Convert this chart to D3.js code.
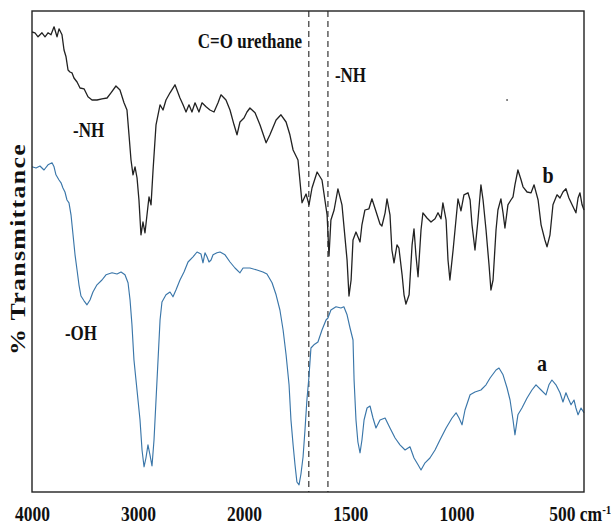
<!DOCTYPE html>
<html>
<head>
<meta charset="utf-8">
<script src="https://cdn.jsdelivr.net/npm/d3@7"></script>
<style>
  body { margin: 0; background: #fff; }
  text { font-family: "Liberation Serif", "Times New Roman", serif; font-weight: bold; fill: #111; }
</style>
</head>
<body>
<svg id="ftir"></svg>
<script>
// Chart size and plot box
const width = 611;
const height = 524;
const box = { left: 32, right: 584, top: 11, bottom: 492 };

// Wavenumber ticks (cm-1), the axis is expanded below 2000
const tickValues = [4000, 3000, 2000, 1500, 1000, 500];

// Dashed marker lines (cm-1)
const markerLines = [1695, 1605];

// Spectrum b (upper, black) : [wavenumber, transmittance]
const spectrumB = [
  [4000,115],[3972,114.8],[3943,113.8],[3906,114.8],[3877,113.8],[3849,114.8],[3821,114.3],
  [3792,116.3],[3764,113.8],[3745,115.8],[3717,114.3],[3698,110.5],[3679,108.8],[3660,105.5],
  [3642,105],[3623,104.8],[3604,103.5],[3575,102.5],[3547,101],[3509,100.8],[3472,98.8],
  [3434,98],[3387,98],[3340,98.3],[3292,98.5],[3255,99.8],[3208,101.5],[3170,100.5],
  [3132,97.3],[3104,95.5],[3085,89.3],[3066,83],[3047,79.3],[3028,81.3],[3009,78.5],
  [2991,73],[2972,64.3],[2953,67.5],[2934,64.8],[2915,69.3],[2896,73.8],[2877,71.8],
  [2858,80.5],[2830,91.8],[2792,96.8],[2764,95.5],[2736,98],[2698,99.8],[2651,101.8],
  [2604,98.5],[2575,96.8],[2547,95],[2519,96.8],[2491,95],[2462,97.3],[2425,95],
  [2396,97.3],[2358,96.3],[2321,95.5],[2283,95],[2245,97.3],[2217,99.3],[2170,98],
  [2132,95.5],[2094,91.8],[2066,89.3],[2038,92.5],[2000,93.5],[1986,95],[1972,96],
  [1948,94.8],[1925,91.8],[1896,87.3],[1878,89.3],[1849,93],[1826,94.3],[1802,92.5],
  [1784,89.3],[1769,85.5],[1746,83],[1727,72.3],[1708,74.5],[1694,71.8],[1680,76],
  [1656,80],[1633,78],[1609,69.3],[1600,59],[1591,68],[1576,70.5],[1558,75.8],[1539,71.8],
  [1515,58],[1506,49],[1496,53],[1487,63],[1473,65],[1454,62.5],[1445,66.8],[1431,70.5],
  [1412,70.8],[1398,73.3],[1384,71],[1360,67],[1351,66.5],[1336,69.8],[1327,73.3],
  [1313,69.3],[1304,60.5],[1294,57.3],[1280,61.8],[1271,61],[1256,54.3],[1247,49.3],
  [1238,47],[1223,49.3],[1209,61.8],[1200,65.8],[1191,59.3],[1181,53.8],[1167,65.5],
  [1158,69.8],[1139,68.5],[1120,67.5],[1101,68.3],[1087,69.8],[1073,68.3],[1064,72.3],
  [1049,68],[1040,58],[1031,53],[1016,60.5],[1007,65.5],[993,73.3],[979,70.3],[965,74.3],
  [946,74.8],[936,73],[927,66.8],[913,60.5],[899,68],[885,76.8],[875,73],[861,65.5],
  [847,56.8],[838,50.5],[828,53],[814,65.5],[805,70.5],[791,73.3],[781,69.8],[772,66],
  [758,71.8],[744,73],[734,73.8],[725,76.8],[711,80.5],[696,78],[687,76.3],[668,75],
  [649,74.8],[635,76.8],[616,73],[602,66.8],[584,63],[574,61.3],[560,64.3],[546,71.8],
  [527,74.3],[513,73.5],[499,75],[485,75.8],[471,73.5],[456,71.8],[438,69.8],[428,73.5],
  [419,74.8],[409,71.8],[400,70.5]
];

// Spectrum a (lower, blue) : [wavenumber, transmittance]
const spectrumA = [
  [4000,81.3],[3962,81],[3925,81.5],[3887,80.5],[3849,81.8],[3811,82.3],[3792,81.3],
  [3774,79.3],[3745,78],[3726,77.3],[3708,76],[3689,75],[3670,73],[3651,72.3],[3632,69.3],
  [3613,64.3],[3594,59.3],[3575,55.5],[3557,51.8],[3538,49],[3509,47.8],[3481,46.8],
  [3453,48],[3425,50],[3387,51.8],[3340,53],[3302,54.3],[3245,54.8],[3198,54.5],[3160,55],
  [3123,54.3],[3094,52.3],[3075,48],[3057,41.8],[3038,33],[3019,28],[3000,23],[2981,18],
  [2962,10.5],[2943,6.3],[2925,8.5],[2906,11.8],[2887,9.3],[2868,6.5],[2849,13],[2830,23],
  [2811,33],[2792,43],[2774,47.5],[2736,49.3],[2698,50],[2670,48.8],[2642,50.5],[2604,53],
  [2566,55],[2528,57.5],[2481,58.8],[2443,60],[2406,59.5],[2387,57.3],[2368,59.8],
  [2349,58.8],[2330,57.5],[2311,58],[2292,59.3],[2255,59.8],[2226,60],[2179,59.3],
  [2132,57.5],[2085,56],[2038,54.8],[2009,56],[1972,56],[1939,55.5],[1911,55],[1892,54.5],
  [1868,52.3],[1849,49.3],[1831,45.5],[1816,40.5],[1802,34.3],[1788,26.8],[1779,18],
  [1769,11.8],[1760,6.8],[1751,2.5],[1741,1.8],[1732,4.5],[1722,8.8],[1713,15.5],[1704,23],
  [1694,29],[1685,36],[1671,36.8],[1652,37.5],[1633,40.5],[1614,43],[1605,43.5],[1591,45.5],
  [1567,46.3],[1544,46],[1530,46.3],[1515,44.3],[1501,41],[1487,38],[1482,28],[1473,18],
  [1464,12.5],[1454,9.8],[1445,13],[1435,18],[1421,21],[1407,21.5],[1393,18.5],[1379,16],
  [1360,18],[1336,18.5],[1313,16],[1289,13.5],[1266,11.8],[1242,10.5],[1219,11.3],[1200,8.5],
  [1181,6.8],[1167,5.5],[1148,7.3],[1125,8.5],[1101,10.5],[1078,13],[1049,16],[1021,18.5],
  [1002,19.8],[988,18.5],[974,16.8],[960,20.5],[936,24.3],[913,25],[885,25.5],[861,26.8],
  [842,28.5],[814,30.5],[800,31],[781,29.3],[762,26],[748,23],[734,18],[725,14.3],[711,19.3],
  [692,21],[668,23.5],[645,25.5],[626,26.8],[602,25.5],[579,24.3],[565,26.8],[551,28],
  [532,26.8],[513,24.8],[499,22.5],[485,24.8],[475,23.5],[461,21.8],[447,23],[438,21],
  [428,19.3],[414,21],[400,19.8]
];

// Text annotations : [text, wavenumber, transmittance, anchor]
const annotations = [
  ["C=O urethane", 1727, 111, "end"],
  ["-NH", 1572, 102.5, "start"],
  ["-NH", 3613, 88.8, "start"],
  ["-OH", 3689, 38, "start"],
  ["b", 569, 77.3, "middle"],
  ["a", 598, 30.3, "middle"]
];

const svg = d3.select("#ftir")
    .attr("width", width)
    .attr("height", height);

// Piecewise x scale, 2x expansion below 2000 cm-1
const x = d3.scaleLinear()
    .domain([4000, 2000, 400])
    .range([box.left, 244, box.right]);

const y = d3.scaleLinear()
    .domain([0, 120])
    .range([box.bottom, 12]);

const line = d3.line()
    .x(d => x(d[0]))
    .y(d => y(d[1]));

// Dashed markers
svg.selectAll(".marker")
    .data(markerLines)
    .enter().append("line")
    .attr("class", "marker")
    .attr("x1", d => x(d)).attr("x2", d => x(d))
    .attr("y1", box.top).attr("y2", box.bottom)
    .attr("stroke", "#222")
    .attr("stroke-width", 1.1)
    .attr("stroke-dasharray", "6,4");

// Spectra
svg.append("path")
    .datum(spectrumA)
    .attr("d", line)
    .attr("fill", "none")
    .attr("stroke", "#3a76a9")
    .attr("stroke-width", 1.15)
    .attr("stroke-linejoin", "round");

svg.append("path")
    .datum(spectrumB)
    .attr("d", line)
    .attr("fill", "none")
    .attr("stroke", "#222")
    .attr("stroke-width", 1.3)
    .attr("stroke-linejoin", "round");

// Plot frame
svg.append("rect")
    .attr("x", box.left).attr("y", box.top)
    .attr("width", box.right - box.left)
    .attr("height", box.bottom - box.top)
    .attr("fill", "none")
    .attr("stroke", "#222")
    .attr("stroke-width", 1.4);

// x axis labels
const xAxis = d3.axisBottom(x)
    .tickValues(tickValues)
    .tickSize(0)
    .tickSizeOuter(0)
    .tickFormat(d3.format("d"));

const axisG = svg.append("g")
    .attr("transform", `translate(0, ${box.bottom})`)
    .call(xAxis);
axisG.select(".domain").remove();
axisG.selectAll("text")
    .attr("y", null).attr("dy", null)
    .attr("fill", "#111")
    .style("font-family", "'Liberation Serif', serif")
    .style("font-weight", "bold")
    .style("font-size", "17.5px")
    .attr("transform", "translate(0,29) scale(1,1.2)");

// unit on the last tick
const lastTick = axisG.selectAll("text").filter(d => d === 500);
lastTick.attr("text-anchor", "start").attr("x", -14);
lastTick.append("tspan").text(" cm");
lastTick.append("tspan").text("-1").attr("dy", -6).style("font-size", "11px");

// y axis title
svg.append("text")
    .attr("transform", "translate(25, 249) rotate(-90)")
    .attr("text-anchor", "middle")
    .attr("textLength", 212)
    .attr("lengthAdjust", "spacingAndGlyphs")
    .style("font-size", "20px")
    .style("letter-spacing", "1px")
    .text("% Transmittance");

// Annotations
svg.selectAll(".note")
    .data(annotations)
    .enter().append("text")
    .attr("class", "note")
    .attr("transform", d => `translate(${x(d[1])}, ${y(d[2])}) scale(1,1.18)`)
    .attr("text-anchor", d => d[3])
    .style("font-size", d => d[0].length === 1 ? "20px" : "17px")
    .text(d => d[0]);

// small speck in the scan
svg.append("circle")
    .attr("cx", x(762)).attr("cy", y(98))
    .attr("r", 1)
    .attr("fill", "#666");
</script>
</body>
</html>
